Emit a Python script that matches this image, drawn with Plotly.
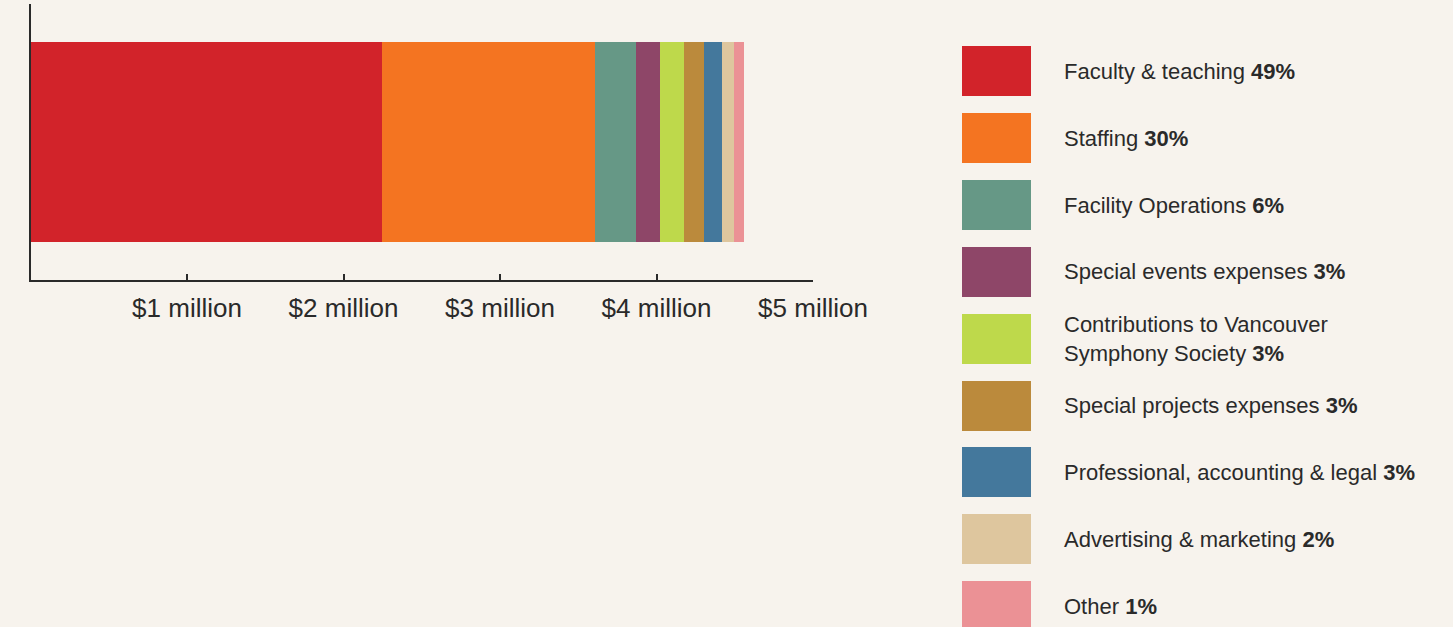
import plotly.graph_objects as go

# ---- data ----
categories = [
    "Faculty & teaching",
    "Staffing",
    "Facility Operations",
    "Special events expenses",
    "Contributions to Vancouver<br>Symphony Society",
    "Special projects expenses",
    "Professional, accounting & legal",
    "Advertising & marketing",
    "Other",
]
percent_labels = ["49%", "30%", "6%", "3%", "3%", "3%", "3%", "2%", "1%"]
values_million = [2.246, 1.363, 0.260, 0.153, 0.153, 0.128, 0.115, 0.077, 0.064]
colors = ["#d2232a", "#f47421", "#669886", "#8e4668", "#bed94b",
          "#bb8a3c", "#44789c", "#dec69e", "#eb9195"]
tick_values = [1, 2, 3, 4, 5]
tick_labels = ["$1 million", "$2 million", "$3 million", "$4 million", "$5 million"]

BG = "#f7f3ed"
INK = "#2a2a2a"
FONT = "Liberation Sans, Arial, Helvetica, sans-serif"

W, H = 1453, 627

fig = go.Figure()

# stacked horizontal bar
for cat, val, col in zip(categories, values_million, colors):
    fig.add_trace(go.Bar(
        x=[val], y=[0], orientation="h",
        marker=dict(color=col, line=dict(width=0)),
        width=200 / 276, name=cat, showlegend=False,
        xaxis="x", yaxis="y", hoverinfo="skip",
    ))

# legend swatches as a second bar chart
legend_pos = list(range(len(categories)))
fig.add_trace(go.Bar(
    x=[1] * len(categories), y=legend_pos, orientation="h",
    marker=dict(color=colors, line=dict(width=0)),
    width=50 / 66.9, showlegend=False,
    xaxis="x2", yaxis="y2", hoverinfo="skip",
))

ticktext2 = [f"{c} <b>{p}</b>" for c, p in zip(categories, percent_labels)]

fig.update_layout(
    width=W, height=H,
    autosize=False,
    barmode="stack",
    paper_bgcolor=BG, plot_bgcolor=BG,
    margin=dict(l=0, r=0, t=0, b=0, pad=0),
    font=dict(family=FONT, color=INK),
    xaxis=dict(
        domain=[30.5 / W, 813 / W], range=[0, 5],
        tickvals=tick_values, ticktext=tick_labels,
        ticks="inside", ticklen=6, tickwidth=2, tickcolor=INK,
        showline=True, linewidth=2, linecolor=INK,
        showgrid=False, zeroline=False,
        tickfont=dict(size=26, color=INK),
        ticklabelstandoff=4,
        automargin=False,
        anchor="y",
    ),
    yaxis=dict(
        domain=[1 - 280 / H, 1 - 4 / H], range=[-0.5, 0.5],
        showticklabels=False, ticks="",
        showline=True, linewidth=2, linecolor=INK,
        showgrid=False, zeroline=False,
        automargin=False,
        anchor="x",
    ),
    xaxis2=dict(
        domain=[962 / W, 1031 / W], range=[0, 1],
        visible=False, anchor="y2", automargin=False,
    ),
    yaxis2=dict(
        domain=[0, 1], range=[(H - 71) / 66.9, -71 / 66.9],
        autorange=False,
        side="right", anchor="x2",
        tickvals=legend_pos, ticktext=ticktext2,
        ticks="", showline=False, showgrid=False, zeroline=False,
        tickfont=dict(size=22, color=INK),
        ticklabelstandoff=32,
        automargin=False,
    ),
)

fig.write_html(
    "out.html",
    config={"displayModeBar": False, "staticPlot": True},
    post_script=(
        "document.body.style.margin='0';"
        "document.body.style.padding='0';"
        "document.body.style.overflow='hidden';"
        f"document.body.style.background='{BG}';"
    ),
)
